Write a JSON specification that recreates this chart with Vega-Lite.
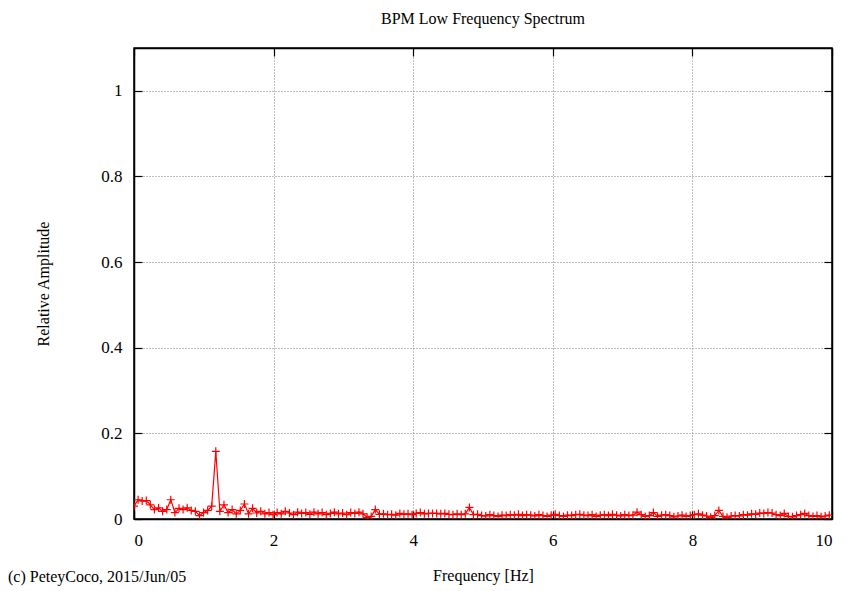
{
  "$schema": "https://vega.github.io/schema/vega-lite/v6.json",
  "autosize": "none",
  "width": 698,
  "height": 471,
  "padding": {"left": 134, "top": 48, "right": 19, "bottom": 72},
  "background": "white",
  "config": {
    "font": "Liberation Serif",
    "view": {"stroke": "black", "strokeWidth": 1.5},
    "axis": {
      "domainColor": "black",
      "domainWidth": 1.5,
      "tickColor": "black",
      "tickWidth": 1.2,
      "labelColor": "black",
      "labelFont": "Liberation Serif",
      "labelFontSize": 17,
      "titleFont": "Liberation Serif",
      "titleFontSize": 16,
      "titleFontWeight": "normal",
      "titleColor": "black",
      "gridColor": "#7f7f7f",
      "gridDash": [1, 2],
      "gridWidth": 1
    }
  },
  "title": {"text": "BPM Low Frequency Spectrum", "fontSize": 16, "fontWeight": "normal", "font": "Liberation Serif", "color": "black", "offset": 20},
  "datasets": {
    "spec": [
      {"f":0.000,"a":0.030},{"f":0.059,"a":0.045},{"f":0.117,"a":0.042},{"f":0.176,"a":0.043},{"f":0.234,"a":0.033},{"f":0.293,"a":0.022},{"f":0.352,"a":0.026},{"f":0.410,"a":0.018},{"f":0.469,"a":0.022},{"f":0.527,"a":0.045},
      {"f":0.586,"a":0.015},{"f":0.645,"a":0.025},{"f":0.703,"a":0.022},{"f":0.762,"a":0.026},{"f":0.820,"a":0.020},{"f":0.879,"a":0.018},{"f":0.938,"a":0.008},{"f":0.996,"a":0.015},{"f":1.055,"a":0.020},{"f":1.113,"a":0.030},
      {"f":1.172,"a":0.158},{"f":1.230,"a":0.018},{"f":1.289,"a":0.033},{"f":1.348,"a":0.015},{"f":1.406,"a":0.022},{"f":1.465,"a":0.012},{"f":1.523,"a":0.020},{"f":1.582,"a":0.035},{"f":1.641,"a":0.012},{"f":1.699,"a":0.025},
      {"f":1.758,"a":0.014},{"f":1.816,"a":0.018},{"f":1.875,"a":0.012},{"f":1.934,"a":0.015},{"f":1.992,"a":0.010},{"f":2.051,"a":0.015},{"f":2.109,"a":0.012},{"f":2.168,"a":0.018},{"f":2.227,"a":0.014},{"f":2.285,"a":0.010},
      {"f":2.344,"a":0.016},{"f":2.402,"a":0.013},{"f":2.461,"a":0.015},{"f":2.520,"a":0.011},{"f":2.578,"a":0.016},{"f":2.637,"a":0.012},{"f":2.695,"a":0.015},{"f":2.754,"a":0.010},{"f":2.813,"a":0.013},{"f":2.871,"a":0.016},
      {"f":2.930,"a":0.012},{"f":2.988,"a":0.014},{"f":3.047,"a":0.010},{"f":3.105,"a":0.015},{"f":3.164,"a":0.013},{"f":3.223,"a":0.016},{"f":3.281,"a":0.012},{"f":3.340,"a":0.004},{"f":3.398,"a":0.006},{"f":3.457,"a":0.022},
      {"f":3.516,"a":0.011},{"f":3.574,"a":0.012},{"f":3.633,"a":0.010},{"f":3.691,"a":0.011},{"f":3.750,"a":0.009},{"f":3.809,"a":0.013},{"f":3.867,"a":0.011},{"f":3.926,"a":0.012},{"f":3.984,"a":0.010},{"f":4.043,"a":0.013},
      {"f":4.102,"a":0.015},{"f":4.160,"a":0.012},{"f":4.219,"a":0.013},{"f":4.277,"a":0.013},{"f":4.336,"a":0.013},{"f":4.395,"a":0.012},{"f":4.453,"a":0.013},{"f":4.512,"a":0.011},{"f":4.570,"a":0.010},{"f":4.629,"a":0.012},
      {"f":4.688,"a":0.010},{"f":4.746,"a":0.012},{"f":4.805,"a":0.027},{"f":4.863,"a":0.010},{"f":4.922,"a":0.011},{"f":4.980,"a":0.008},{"f":5.039,"a":0.007},{"f":5.098,"a":0.010},{"f":5.156,"a":0.008},{"f":5.215,"a":0.006},
      {"f":5.273,"a":0.009},{"f":5.332,"a":0.008},{"f":5.391,"a":0.010},{"f":5.449,"a":0.009},{"f":5.508,"a":0.011},{"f":5.566,"a":0.008},{"f":5.625,"a":0.010},{"f":5.684,"a":0.009},{"f":5.742,"a":0.007},{"f":5.801,"a":0.010},
      {"f":5.859,"a":0.008},{"f":5.918,"a":0.006},{"f":5.977,"a":0.009},{"f":6.035,"a":0.011},{"f":6.094,"a":0.008},{"f":6.152,"a":0.006},{"f":6.211,"a":0.009},{"f":6.270,"a":0.008},{"f":6.328,"a":0.010},{"f":6.387,"a":0.011},
      {"f":6.445,"a":0.009},{"f":6.504,"a":0.008},{"f":6.563,"a":0.010},{"f":6.621,"a":0.006},{"f":6.680,"a":0.009},{"f":6.738,"a":0.010},{"f":6.797,"a":0.008},{"f":6.855,"a":0.011},{"f":6.914,"a":0.009},{"f":6.973,"a":0.007},
      {"f":7.031,"a":0.010},{"f":7.090,"a":0.008},{"f":7.148,"a":0.009},{"f":7.207,"a":0.016},{"f":7.266,"a":0.010},{"f":7.324,"a":0.006},{"f":7.383,"a":0.008},{"f":7.441,"a":0.015},{"f":7.500,"a":0.006},{"f":7.559,"a":0.009},
      {"f":7.617,"a":0.010},{"f":7.676,"a":0.008},{"f":7.734,"a":0.005},{"f":7.793,"a":0.007},{"f":7.852,"a":0.009},{"f":7.910,"a":0.006},{"f":7.969,"a":0.008},{"f":8.027,"a":0.010},{"f":8.086,"a":0.012},{"f":8.145,"a":0.009},
      {"f":8.203,"a":0.007},{"f":8.262,"a":0.004},{"f":8.320,"a":0.008},{"f":8.379,"a":0.020},{"f":8.438,"a":0.006},{"f":8.496,"a":0.004},{"f":8.555,"a":0.007},{"f":8.613,"a":0.008},{"f":8.672,"a":0.007},{"f":8.730,"a":0.010},
      {"f":8.789,"a":0.009},{"f":8.848,"a":0.012},{"f":8.906,"a":0.011},{"f":8.965,"a":0.014},{"f":9.023,"a":0.013},{"f":9.082,"a":0.015},{"f":9.141,"a":0.014},{"f":9.199,"a":0.010},{"f":9.258,"a":0.008},{"f":9.316,"a":0.013},
      {"f":9.375,"a":0.006},{"f":9.434,"a":0.005},{"f":9.492,"a":0.008},{"f":9.551,"a":0.010},{"f":9.609,"a":0.013},{"f":9.668,"a":0.008},{"f":9.727,"a":0.006},{"f":9.785,"a":0.008},{"f":9.844,"a":0.005},{"f":9.902,"a":0.007},
      {"f":9.961,"a":0.009}
    ],
    "note": [{"f": -1.805, "a": -0.1365, "t": "(c) PeteyCoco, 2015/Jun/05"}]
  },
  "layer": [
    {
      "data": {"name": "spec"},
      "mark": {"type": "line", "color": "#ff0000", "strokeWidth": 1.2, "clip": true},
      "encoding": {
        "x": {"field": "f", "type": "quantitative", "scale": {"domain": [0, 10], "nice": false, "zero": false},
              "axis": {"orient": "bottom", "title": "Frequency [Hz]", "values": [0, 2, 4, 6, 8, 10], "format": "d", "grid": true, "tickSize": -8, "labelPadding": 21, "titlePadding": 19}},
        "y": {"field": "a", "type": "quantitative", "scale": {"domain": [0, 1.1], "nice": false},
              "axis": {"orient": "left", "title": "Relative Amplitude", "values": [0, 0.2, 0.4, 0.6, 0.8, 1], "format": "~g", "grid": true, "tickSize": -8, "labelPadding": 20, "titlePadding": 49}}
      }
    },
    {
      "data": {"name": "spec"},
      "mark": {"type": "point", "shape": "M-1,0L1,0M0,-1L0,1", "size": 64, "color": "#ff0000", "strokeWidth": 1.2, "filled": false, "opacity": 1, "clip": true},
      "encoding": {
        "x": {"field": "f", "type": "quantitative",
              "axis": {"orient": "top", "title": null, "labels": false, "values": [0, 2, 4, 6, 8, 10], "grid": false, "tickSize": -8}},
        "y": {"field": "a", "type": "quantitative",
              "axis": {"orient": "right", "title": null, "labels": false, "values": [0, 0.2, 0.4, 0.6, 0.8, 1], "grid": false, "tickSize": -8}}
      }
    },
    {
      "data": {"name": "note"},
      "mark": {"type": "text", "align": "left", "baseline": "middle", "fontSize": 16, "font": "Liberation Serif", "color": "black", "clip": false},
      "encoding": {
        "x": {"field": "f", "type": "quantitative", "axis": null},
        "y": {"field": "a", "type": "quantitative", "axis": null},
        "text": {"field": "t"}
      }
    }
  ],
  "resolve": {"axis": {"x": "independent", "y": "independent"}}
}
